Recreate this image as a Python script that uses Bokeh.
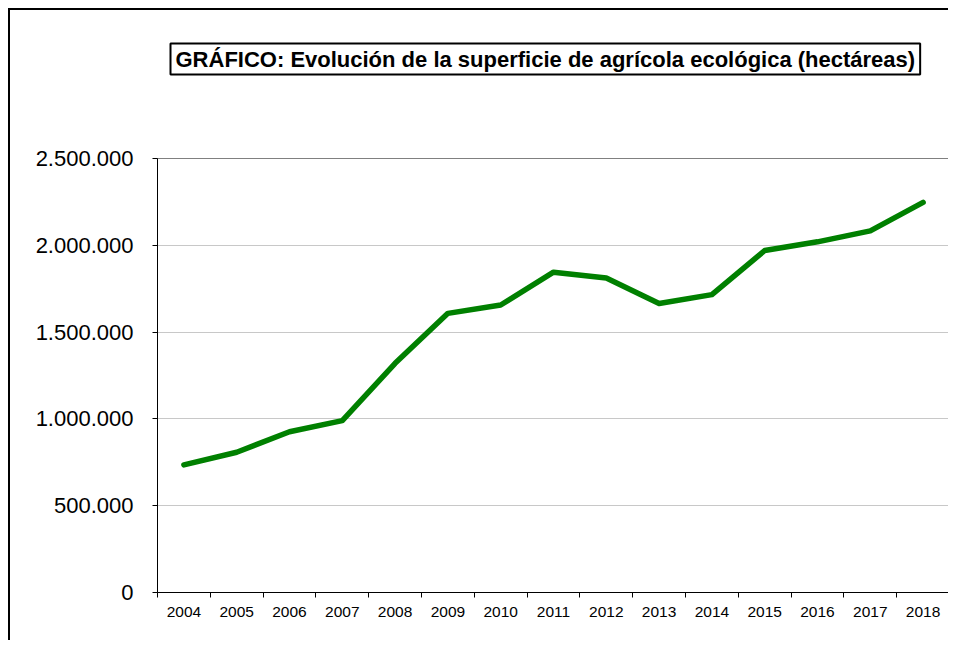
from bokeh.plotting import figure
from bokeh.models import Range1d, FixedTicker, Title
from bokeh.embed import file_html
from bokeh.resources import INLINE

years = ["2004", "2005", "2006", "2007", "2008", "2009", "2010", "2011",
         "2012", "2013", "2014", "2015", "2016", "2017", "2018"]
hectares = [735000, 808000, 926000, 990000, 1320000, 1608000, 1656000, 1845000,
            1812000, 1665000, 1716000, 1970000, 2020000, 2083000, 2247000]
y_ticks = [0, 500000, 1000000, 1500000, 2000000, 2500000]
title_text = "GRÁFICO: Evolución de la superficie de agrícola ecológica (hectáreas)"

FONT = "Liberation Sans"

p = figure(width=940, height=632, output_backend="svg", toolbar_location=None,
           x_range=Range1d(0, len(years)), y_range=Range1d(0, 2500000),
           min_border_left=147, min_border_right=1, min_border_top=148,
           min_border_bottom=50)

xs = [i + 0.5 for i in range(len(years))]
p.line(xs, hectares, line_color="#008000", line_width=5.5,
       line_join="round", line_cap="round")

# x axis: labels at category centres, ticks at boundaries
p.xaxis.ticker = FixedTicker(ticks=xs, minor_ticks=list(range(len(years) + 1)))
p.xaxis.major_label_overrides = {x: y for x, y in zip(xs, years)}
p.xaxis.major_tick_out = 0
p.xaxis.major_tick_in = 0
p.xaxis.minor_tick_out = 5
p.xaxis.minor_tick_in = 0
p.xaxis.minor_tick_line_color = "black"
p.xaxis.axis_line_color = "black"
p.xaxis.major_label_text_font = FONT
p.xaxis.major_label_text_font_size = "15.5px"
p.xaxis.major_label_text_color = "black"
p.xaxis.major_label_standoff = 9

p.yaxis.ticker = FixedTicker(ticks=y_ticks, minor_ticks=[])
p.yaxis.major_label_overrides = {t: f"{t:,}".replace(",", ".") for t in y_ticks}
p.yaxis.major_tick_out = 5
p.yaxis.major_tick_in = 0
p.yaxis.major_tick_line_color = "black"
p.yaxis.axis_line_color = "black"
p.yaxis.major_label_text_font = FONT
p.yaxis.major_label_text_font_size = "22px"
p.yaxis.major_label_text_color = "black"
p.yaxis.major_label_standoff = 19

p.xgrid.visible = False
p.ygrid.ticker = FixedTicker(ticks=y_ticks)
p.ygrid.grid_line_color = "#c8c8c8"
p.outline_line_color = "#808080"
p.outline_line_width = 1

# empty spacer between frame and title box
spacer = Title(text=" ", text_font_size="2px", standoff=80)
p.add_layout(spacer, "above")

p.title = Title(text=title_text, align="left", vertical_align="bottom",
                text_font=FONT, text_font_size="22px", text_font_style="bold",
                text_color="black", border_line_color="black",
                border_line_width=2, background_fill_color="white",
                padding=dict(left=5, right=5, top=3, bottom=3),
                standoff=0, offset=13)

p.styles = {"border-left": "2px solid black", "border-top": "2px solid black",
            "margin-left": "8px", "margin-top": "8px"}

open("out.html", "w").write(file_html(p, INLINE))
